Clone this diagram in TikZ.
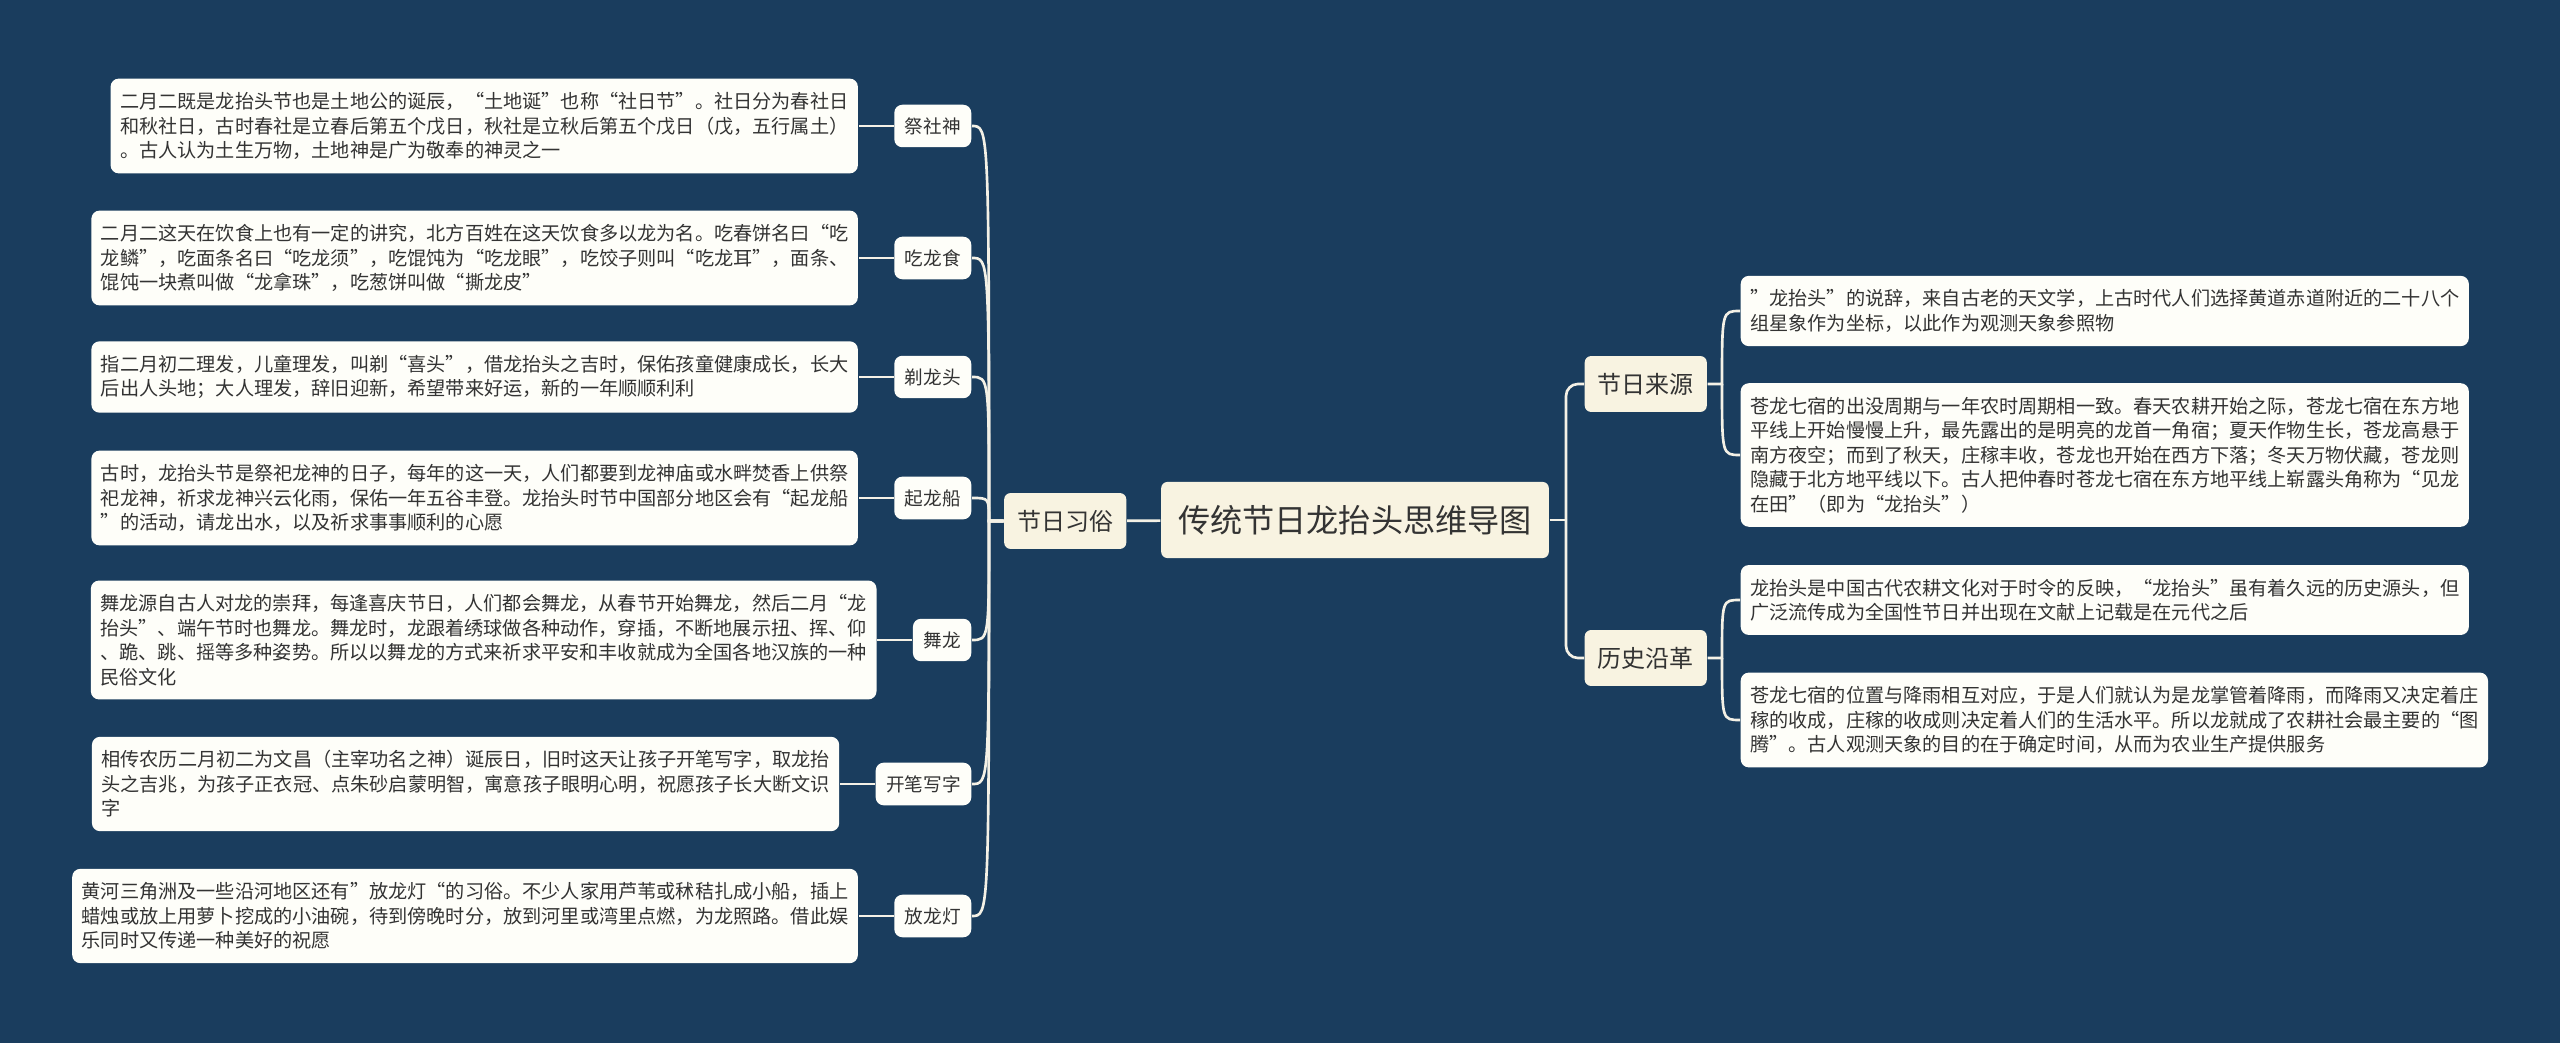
\documentclass[tikz,border=0pt]{standalone}
\usepackage{fontspec}
\setmainfont{Noto Sans CJK SC}
\usetikzlibrary{positioning}
\definecolor{bg}{HTML}{1A3D5E}
\definecolor{cream}{HTML}{F8F3E1}
\definecolor{paper}{HTML}{FEFEF9}
\definecolor{ink}{HTML}{333333}
\definecolor{wire}{HTML}{F4F1E6}
\tikzset{
	box/.style={rounded corners=2.3pt, text=ink},
	topic/.style={box, fill=cream, font=\fontsize{6.83pt}{8pt}\selectfont, inner xsep=3.7pt, inner ysep=4.8pt, rounded corners=1.8pt},
	subtopic/.style={box, fill=paper, font=\fontsize{5.3pt}{6.5pt}\selectfont, inner xsep=3pt, inner ysep=3.6pt},
	leaf/.style={box, fill=paper, align=left, font=\fontsize{5.45pt}{6.97pt}\selectfont, inner xsep=2.7pt, inner ysep=3.9pt},
	link/.style={draw=wire, line width=0.75pt},
}
\begin{document}
\begin{tikzpicture}[x=0.01cm, y=-0.01cm, node distance=0.35cm]
\fill[bg] (0,0) rectangle (2560,1043);
\path
	(1355,520) node [topic, font=\fontsize{9.15pt}{11pt}\selectfont, inner xsep=4.8pt, inner ysep=6.6pt] (zhuti) {传统节日龙抬头思维导图}
	(1127,521) node [topic, anchor=east] (xisu) {节日习俗}
	(1584,384) node [topic, anchor=west] (laiyuan) {节日来源}
	(1584,658) node [topic, anchor=west] (yange) {历史沿革};
\path
	(972,126) node [subtopic, anchor=east] (jisheshen) {祭社神}
	(972,258) node [subtopic, anchor=east] (chilongshi) {吃龙食}
	(972,377) node [subtopic, anchor=east] (tilongtou) {剃龙头}
	(972,498) node [subtopic, anchor=east] (qilongchuan) {起龙船}
	(972,640) node [subtopic, anchor=east] (wulong) {舞龙}
	(972,784) node [subtopic, anchor=east] (kaibi) {开笔写字}
	(972,916) node [subtopic, anchor=east] (fanglongdeng) {放龙灯};
\node [leaf, left=of jisheshen] (jisheshen-w) {二月二既是龙抬头节也是土地公的诞辰，“土地诞”也称“社日节”。社日分为春社日\\和秋社日，古时春社是立春后第五个戊日，秋社是立秋后第五个戊日（戊，五行属土）\\。古人认为土生万物，土地神是广为敬奉的神灵之一};
\node [leaf, left=of chilongshi] (chilongshi-w) {二月二这天在饮食上也有一定的讲究，北方百姓在这天饮食多以龙为名。吃春饼名曰“吃\\龙鳞”，吃面条名曰“吃龙须”，吃馄饨为“吃龙眼”，吃饺子则叫“吃龙耳”，面条、\\馄饨一块煮叫做“龙拿珠”，吃葱饼叫做“撕龙皮”};
\node [leaf, left=of tilongtou] (tilongtou-w) {指二月初二理发，儿童理发，叫剃“喜头”，借龙抬头之吉时，保佑孩童健康成长，长大\\后出人头地；大人理发，辞旧迎新，希望带来好运，新的一年顺顺利利};
\node [leaf, left=of qilongchuan] (qilongchuan-w) {古时，龙抬头节是祭祀龙神的日子，每年的这一天，人们都要到龙神庙或水畔焚香上供祭\\祀龙神，祈求龙神兴云化雨，保佑一年五谷丰登。龙抬头时节中国部分地区会有“起龙船\\”的活动，请龙出水，以及祈求事事顺利的心愿};
\node [leaf, left=of wulong] (wulong-w) {舞龙源自古人对龙的崇拜，每逢喜庆节日，人们都会舞龙，从春节开始舞龙，然后二月“龙\\抬头”、端午节时也舞龙。舞龙时，龙跟着绣球做各种动作，穿插，不断地展示扭、挥、仰\\、跪、跳、摇等多种姿势。所以以舞龙的方式来祈求平安和丰收就成为全国各地汉族的一种\\民俗文化};
\node [leaf, left=of kaibi] (kaibi-w) {相传农历二月初二为文昌（主宰功名之神）诞辰日，旧时这天让孩子开笔写字，取龙抬\\头之吉兆，为孩子正衣冠、点朱砂启蒙明智，寓意孩子眼明心明，祝愿孩子长大断文识\\字};
\node [leaf, left=of fanglongdeng] (fanglongdeng-w) {黄河三角洲及一些沿河地区还有”放龙灯“的习俗。不少人家用芦苇或秫秸扎成小船，插上\\蜡烛或放上用萝卜挖成的小油碗，待到傍晚时分，放到河里或湾里点燃，为龙照路。借此娱\\乐同时又传递一种美好的祝愿};
\path
	(1740,311) node [leaf, anchor=west] (laiyuan-a) {"龙抬头”的说辞，来自古老的天文学，上古时代人们选择黄道赤道附近的二十八个\\组星象作为坐标，以此作为观测天象参照物}
	(1740,455) node [leaf, anchor=west] (laiyuan-b) {苍龙七宿的出没周期与一年农时周期相一致。春天农耕开始之际，苍龙七宿在东方地\\平线上开始慢慢上升，最先露出的是明亮的龙首一角宿；夏天作物生长，苍龙高悬于\\南方夜空；而到了秋天，庄稼丰收，苍龙也开始在西方下落；冬天万物伏藏，苍龙则\\隐藏于北方地平线以下。古人把仲春时苍龙七宿在东方地平线上崭露头角称为“见龙\\在田”（即为“龙抬头”）}
	(1740,600) node [leaf, anchor=west] (yange-a) {龙抬头是中国古代农耕文化对于时令的反映，“龙抬头”虽有着久远的历史源头，但\\广泛流传成为全国性节日并出现在文献上记载是在元代之后}
	(1740,720) node [leaf, anchor=west] (yange-b) {苍龙七宿的位置与降雨相互对应，于是人们就认为是龙掌管着降雨，而降雨又决定着庄\\稼的收成，庄稼的收成则决定着人们的生活水平。所以龙就成了农耕社会最主要的“图\\腾”。古人观测天象的目的在于确定时间，从而为农业生产提供服务};
\coordinate (zuogan) at (989,521);
\coordinate (yougan) at (1566,520);
\coordinate (laiyuangan) at (1722,384);
\coordinate (yangegan) at (1722,658);
\draw[link] (zhuti) -- (xisu);
\foreach \n in {jisheshen,chilongshi,tilongtou,qilongchuan,wulong,kaibi,fanglongdeng} {
	\draw[link] (xisu.west) -- (zuogan) .. controls (zuogan |- \n.east) .. (\n.east);
	\draw[link] (\n.west) -- (\n-w.east);
}
\draw[link] (zhuti.east) -- (yougan);
\draw[link, rounded corners=3.4pt] (yougan) |- (laiyuan.west);
\draw[link, rounded corners=3.4pt] (yougan) |- (yange.west);
\draw[link] (laiyuan.east) -- (laiyuangan) .. controls (laiyuangan |- laiyuan-a.west) .. (laiyuan-a.west);
\draw[link] (laiyuangan) .. controls (laiyuangan |- laiyuan-b.west) .. (laiyuan-b.west);
\draw[link] (yange.east) -- (yangegan) .. controls (yangegan |- yange-a.west) .. (yange-a.west);
\draw[link] (yangegan) .. controls (yangegan |- yange-b.west) .. (yange-b.west);
\end{tikzpicture}
\end{document}
